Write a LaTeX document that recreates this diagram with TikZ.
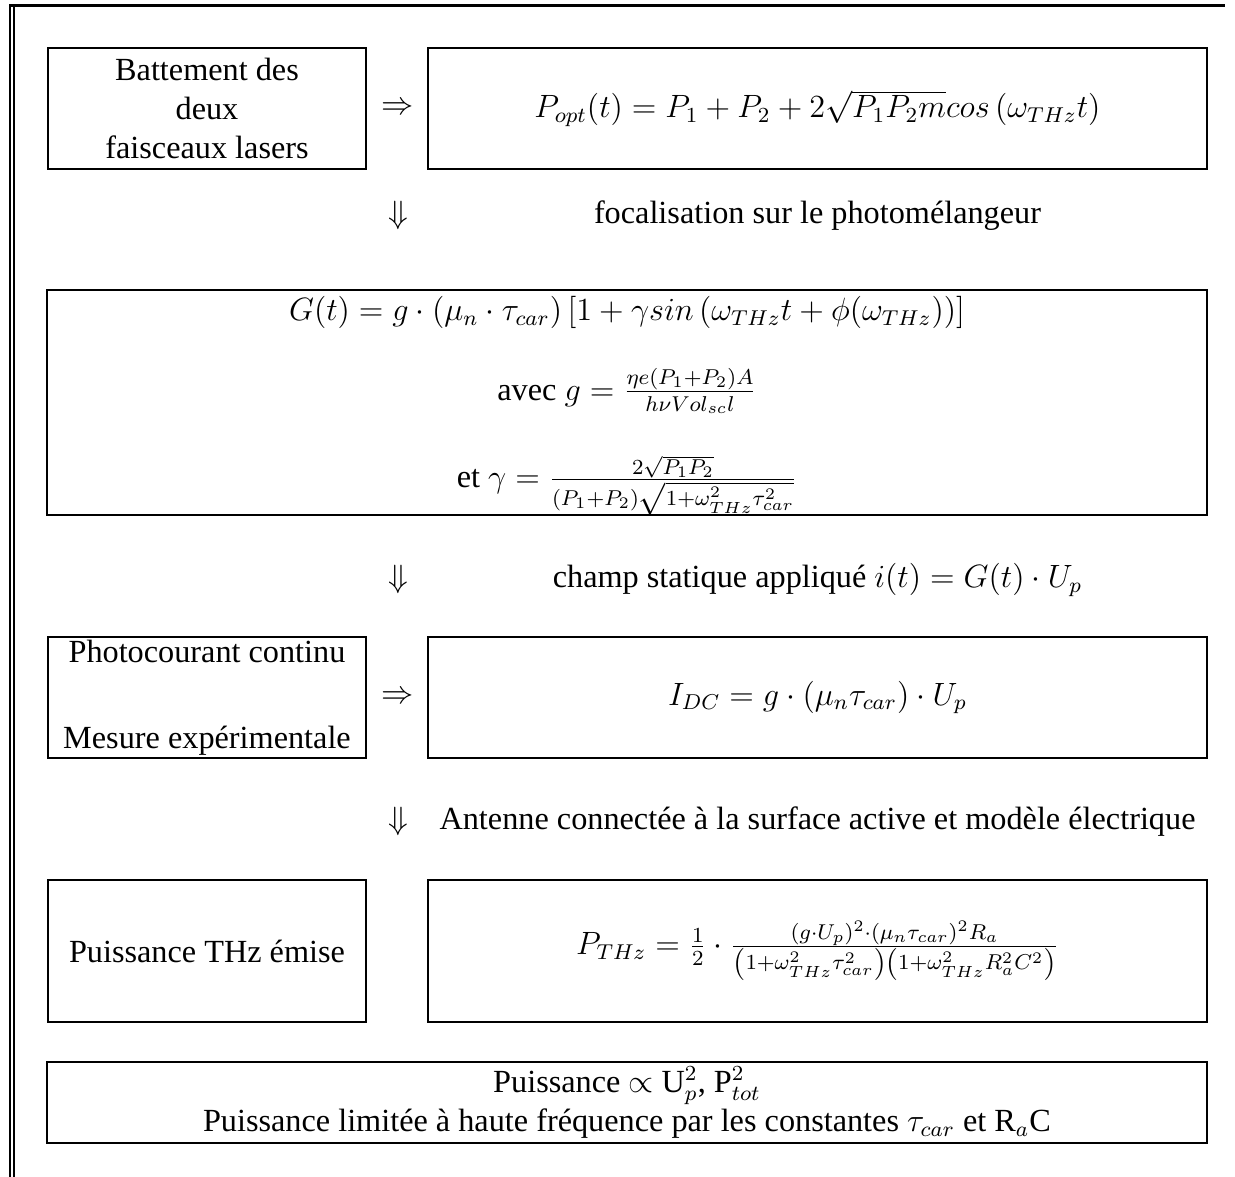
\documentclass[12pt,tikz,border=0pt]{standalone}
\usepackage{fontspec}
\setmainfont{Liberation Serif}
\newcommand{\pxu}{0.372pt}
\tikzset{
  cadre/.style={draw, line width=0.8pt, inner sep=0pt, align=center,
    minimum height=#1*\pxu},
  petit/.style={cadre=#1, minimum width=318*\pxu},
  grand/.style={cadre=#1, minimum width=779*\pxu},
  large/.style={cadre=#1, minimum width=1160*\pxu},
  fleche/.style={inner sep=0pt},
  etape/.style={anchor=base, inner sep=0pt},
}
\begin{document}
\begin{tikzpicture}[x=\pxu, y=-\pxu]
    \useasboundingbox (0,0) rectangle (1235,1177);
    \draw[line width=0.8pt] (10,1177) -- (10,5.5) -- (1225,5.5);
    \draw[line width=0.8pt] (14,1177) -- (14,5.5);

    \node[petit=121] (battement) at (207,108.5) {Battement des\\deux\\faisceaux lasers};
    \node[fleche] (impl1) at (398,108.5) {$\Rightarrow$};
    \node[grand=121] (popt) at (817.5,108.5)
        {$P_{opt}(t) = P_1 + P_2 + 2\sqrt{P_1P_2m}cos\left(\omega_{THz}t\right)$};

    \node[etape] (desc1) at (398,224) {$\Downarrow$};
    \node[etape] (focal) at (817.5,224) {focalisation sur le photomélangeur};

    \node[large=225] (conduct) at (627,402.5) {};
    \node[etape] (gt) at (627,321)
        {$G(t) = g\cdot\left(\mu_n\cdot\tau_{car}\right)\left[1+\gamma sin\left(\omega_{THz}t+\phi(\omega_{THz})\right)\right]$};
    \node[etape] (gdef) at (627,400)
        {avec $g = \frac{\eta e(P_1+P_2)A}{h\nu Vol_{sc}l}$};
    \node[etape] (gamma) at (627,488)
        {et $\gamma = \frac{2\sqrt{P_1P_2}}{(P_1+P_2)\sqrt{1+\omega_{THz}^2\tau_{car}^2}}$};

    \node[etape] (desc2) at (398,588) {$\Downarrow$};
    \node[etape] (champ) at (817.5,588) {champ statique appliqué $i(t) = G(t)\cdot U_p$};

    \node[petit=121] (photo) at (207,697.5) {Photocourant continu\\[17.5pt]Mesure expérimentale};
    \node[fleche] (impl2) at (398,697.5) {$\Rightarrow$};
    \node[grand=121] (idc) at (817.5,697.5)
        {$I_{DC} = g\cdot\left(\mu_n\tau_{car}\right)\cdot U_p$};

    \node[etape] (desc3) at (398,830) {$\Downarrow$};
    \node[etape] (antenne) at (817.5,830) {Antenne connectée à la surface active et modèle électrique};

    \node[petit=142] (puiss) at (207,951) {Puissance THz émise};
    \node[grand=142] (pthz) at (817.5,951)
        {$P_{THz} = \frac{1}{2}\cdot\frac{(g\cdot U_p)^2\cdot(\mu_n\tau_{car})^2R_a}{\left(1+\omega_{THz}^2\tau_{car}^2\right)\left(1+\omega_{THz}^2R_a^2C^2\right)}$};

    \node[large=81] (bilan) at (627,1102.5)
        {Puissance $\propto$ U$_p^2$, P$_{tot}^2$\\
         Puissance limitée à haute fréquence par les constantes $\tau_{car}$ et R$_a$C};
\end{tikzpicture}
\end{document}
